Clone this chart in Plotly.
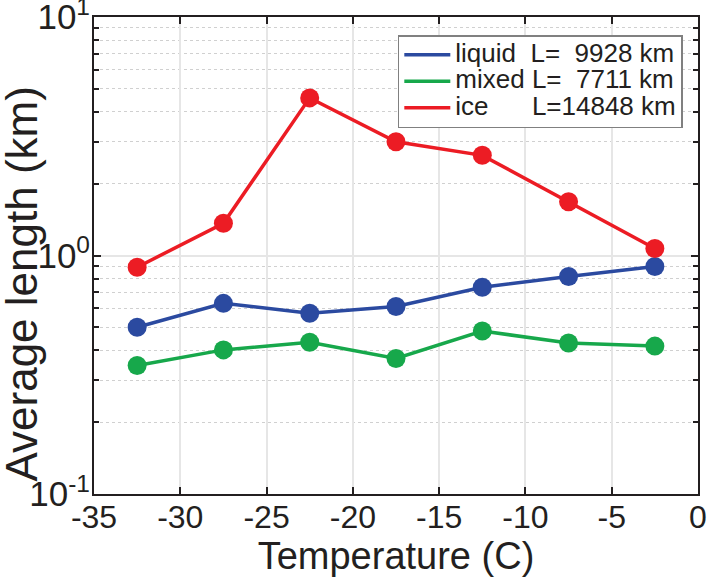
import plotly.graph_objects as go

temps = [-32.5, -27.5, -22.5, -17.5, -12.5, -7.5, -2.5]
liquid = [0.50, 0.63, 0.573, 0.611, 0.736, 0.817, 0.899]
mixed = [0.346, 0.402, 0.433, 0.370, 0.482, 0.430, 0.417]
ice = [0.893, 1.365, 4.58, 3.0, 2.63, 1.68, 1.07]
names = ["liquid\u00a0\u00a0L=\u00a0\u00a09928 km",
         "mixed L=\u00a0\u00a07711 km",
         "ice\u00a0\u00a0\u00a0\u00a0\u00a0\u00a0L=14848 km"]
colors = ["#2b4aa0", "#17a84b", "#ec1c24"]
series = [liquid, mixed, ice]

y_ticks = [0.1, 1, 10]
y_ticktext = ["10<sup>-1</sup>", "10<sup>0</sup>", "10<sup>1</sup>"]
y_minor = [m * d for d in (0.1, 1) for m in range(2, 10)]
x_ticks = [-35, -30, -25, -20, -15, -10, -5, 0]
x_title = "Temperature (C)"
y_title = "Average length (km)"

fig = go.Figure()
for name, vals, c in zip(names, series, colors):
    fig.add_trace(go.Scatter(x=temps, y=vals, name=name, mode="lines+markers",
                             line=dict(color=c, width=3.5), legendgroup=name,
                             marker=dict(color=c, size=19), showlegend=False))
# legend entries: line only, as in the reference
for name, c in zip(names, colors):
    fig.add_trace(go.Scatter(x=[None], y=[None], mode="lines", legendgroup=name,
                             name="<span style='font-size:26px'>" + name + "</span>",
                             line=dict(color=c, width=3.5)))

font = "Liberation Sans, Arial, sans-serif"
fig.update_layout(
    width=709, height=577,
    margin=dict(l=94, r=11, t=17, b=83),
    paper_bgcolor="white", plot_bgcolor="white",
    font=dict(family=font, color="#231f20", size=32),
    showlegend=True,
    legend=dict(x=0.503, y=0.962, xanchor="left", yanchor="top",
                bgcolor="white", bordercolor="#808080", borderwidth=1.5,
                font=dict(size=18, family=font), tracegroupgap=0,
                itemwidth=46),
    annotations=[dict(text=y_title, textangle=-90, xref="paper", yref="paper",
                      x=0, y=0.5, xanchor="center", yanchor="middle",
                      xshift=-73, yshift=-29, showarrow=False,
                      font=dict(size=44, family=font, color="#231f20"))],
)
fig.update_xaxes(range=[-35, 0], tickvals=x_ticks, ticktext=[str(v) for v in x_ticks],
                 ticks="inside", ticklen=7, tickwidth=1.5, tickcolor="#231f20",
                 showline=True, linecolor="#231f20", linewidth=2, mirror="ticks",
                 showgrid=True, gridcolor="#e6e6e6", gridwidth=1.5, zeroline=False,
                 automargin=False, ticklabeloverflow="allow", ticklabelstandoff=-6,
                 title=dict(text=x_title, font=dict(size=38), standoff=8),
                 tickfont=dict(size=32))
fig.update_yaxes(type="log", range=[-1, 1], tickvals=y_ticks, ticktext=y_ticktext,
                 ticks="inside", ticklen=7, tickwidth=1.5, tickcolor="#231f20",
                 showline=True, linecolor="#231f20", linewidth=2, mirror="ticks",
                 showgrid=True, gridcolor="#e6e6e6", gridwidth=1.5, zeroline=False,
                 automargin=False, ticklabelstandoff=-5, ticklabeloverflow="allow",
                 minor=dict(tickvals=y_minor, ticks="inside", ticklen=5, tickwidth=1.5,
                            tickcolor="#231f20", showgrid=True, gridcolor="#d0d0d0",
                            griddash="dot", gridwidth=1),
                 tickfont=dict(size=35))
fig.write_html("out.html", config={"displayModeBar": False},
               post_script="document.body.style.margin='0';")
